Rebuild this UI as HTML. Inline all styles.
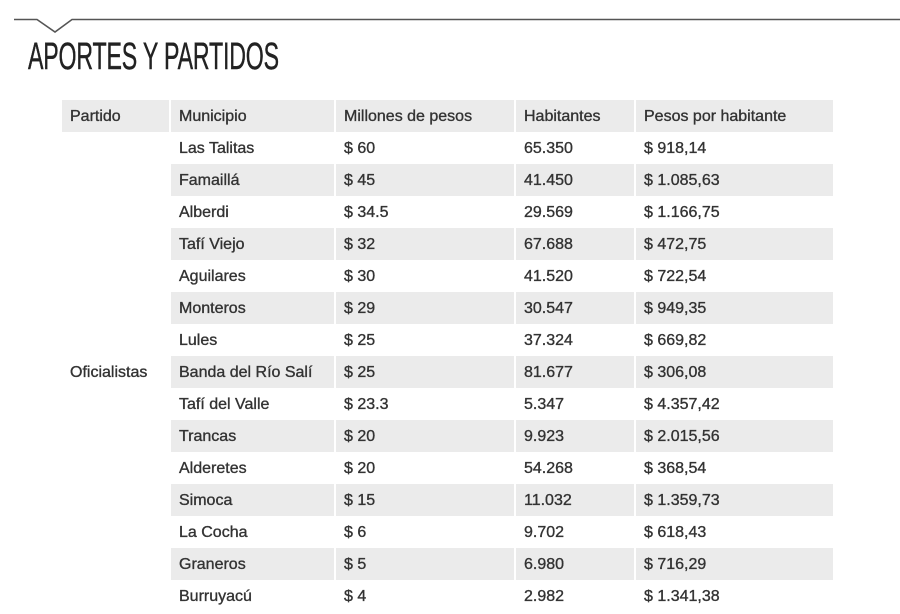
<!DOCTYPE html>
<html><head><meta charset="utf-8"><style>
*{margin:0;padding:0;box-sizing:border-box}
body{width:900px;height:600px;background:#fff;position:relative;overflow:hidden;font-family:"Liberation Sans",sans-serif;color:#3a3a3a}
.title{position:absolute;left:28px;top:36px;font-size:38px;color:#222;transform:scaleX(0.61);transform-origin:left top;letter-spacing:-0.3px;white-space:nowrap;-webkit-text-stroke:0.4px #222}
.c{position:absolute;height:32px;line-height:34px;font-size:16px;padding-left:8px;white-space:nowrap}
.g{background:#ebebeb}
.t{color:#333;-webkit-text-stroke:0.35px #333}
</style></head><body>
<svg width="900" height="40" style="position:absolute;left:0;top:0">
<polyline points="14,19.5 37,19.5 55,32 72,19.5 900,19.5" fill="none" stroke="#555" stroke-width="1.6"/>
</svg>
<div class="title">APORTES Y PARTIDOS</div>
<div id="t"></div>
<script>
var cols=[[62,107],[171,163],[336,178],[516,118],[636,197]];
var hdr=["Partido","Municipio","Millones de pesos","Habitantes","Pesos por habitante"];
var rows=[["Las Talitas","$ 60","65.350","$ 918,14"],["Famaillá","$ 45","41.450","$ 1.085,63"],["Alberdi","$ 34.5","29.569","$ 1.166,75"],["Tafí Viejo","$ 32","67.688","$ 472,75"],["Aguilares","$ 30","41.520","$ 722,54"],["Monteros","$ 29","30.547","$ 949,35"],["Lules","$ 25","37.324","$ 669,82"],["Banda del Río Salí","$ 25","81.677","$ 306,08"],["Tafí del Valle","$ 23.3","5.347","$ 4.357,42"],["Trancas","$ 20","9.923","$ 2.015,56"],["Alderetes","$ 20","54.268","$ 368,54"],["Simoca","$ 15","11.032","$ 1.359,73"],["La Cocha","$ 6","9.702","$ 618,43"],["Graneros","$ 5","6.980","$ 716,29"],["Burruyacú","$ 4","2.982","$ 1.341,38"]];
var h="";
function cell(x,w,y,txt,g){h+='<div class="c t'+(g?' g':'')+'" style="left:'+x+'px;top:'+y+'px;width:'+w+'px">'+txt+'</div>';}
hdr.forEach(function(s,i){cell(cols[i][0],cols[i][1],100,s,true);});
rows.forEach(function(r,k){var y=132+k*32;var g=k%2==1;r.forEach(function(s,i){cell(cols[i+1][0],cols[i+1][1],y,s,g);});});
cell(62,107,356,"Oficialistas",false);
document.getElementById("t").innerHTML=h;
</script>
</body></html>
